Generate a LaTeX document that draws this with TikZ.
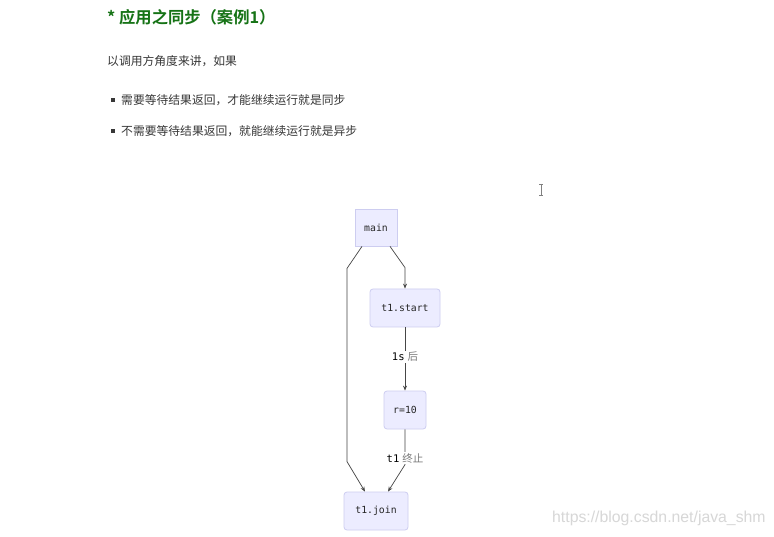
\documentclass[tikz,border=0pt]{standalone}
\usepackage{fontspec}
\setmainfont{Liberation Sans}
\newfontfamily\cjk{Noto Sans CJK SC}
\newfontfamily\cjkbold{Noto Sans CJK SC Bold}
\newfontfamily\mono{DejaVu Sans Mono}
\usetikzlibrary{arrows.meta}
\definecolor{titlegreen}{RGB}{22,115,22}
\definecolor{bodytext}{RGB}{55,55,55}
\definecolor{nodefill}{RGB}{236,236,255}
\definecolor{nodeline}{RGB}{205,205,240}
\definecolor{edgeline}{RGB}{70,70,70}
\definecolor{lblgray}{RGB}{120,120,120}
\definecolor{wm}{RGB}{215,215,215}
\tikzset{
  box/.style={draw=nodeline, fill=nodefill, line width=0.8pt, inner sep=0pt, font=\mono\fontsize{9.8}{11}\selectfont, text=black!85},
  roundbox/.style={box, rounded corners=3pt},
  arr/.style={draw=edgeline, line width=0.7pt, -{Stealth[length=5pt,width=4pt]}},
  elabel/.style={fill=white, inner sep=1pt, font=\fontsize{10.5}{12}\selectfont},
  bodyline/.style={anchor=west, inner sep=0pt, text=bodytext, font=\cjk\fontsize{11.8}{14}\selectfont},
}
\begin{document}
\begin{tikzpicture}[x=1pt,y=-1pt]
\useasboundingbox[fill=white] (0,0) rectangle (774,537);
% heading and text
\node[anchor=west, inner sep=0pt, text=titlegreen, font=\cjkbold\fontsize{16.3}{20}\selectfont] (title) at (107,17) {* 应用之同步（案例1）};
\node[bodyline] (intro) at (107,61) {以调用方角度来讲，如果};
\node[fill=bodytext, minimum size=4pt, inner sep=0pt] (b1) at (112.5,100) {};
\node[bodyline] (t1line) at (121,100) {需要等待结果返回，才能继续运行就是同步};
\node[fill=bodytext, minimum size=4pt, inner sep=0pt] (b2) at (112.5,131) {};
\node[bodyline] (t2line) at (121,131) {不需要等待结果返回，就能继续运行就是异步};
% nodes
\node[box, minimum width=42pt, minimum height=37pt] (main) at (376,227.5) {main};
\node[roundbox, minimum width=70pt, minimum height=38pt] (start) at (405,308) {t1.start};
\node[roundbox, minimum width=42pt, minimum height=38pt] (r10) at (405,410) {r=10};
\node[roundbox, minimum width=64pt, minimum height=38pt] (join) at (376,511) {t1.join};
% edges
\draw[arr] ([xshift=14pt]main.south) -- ([yshift=21pt]start.north) -- (start.north);
\draw[arr] (start.south) -- (r10.north);
\draw[arr] ([xshift=-14pt]main.south) -- ([xshift=-29pt,yshift=-22pt]main.south)
  -- ([xshift=-29pt,yshift=30pt]join.north) -- ([xshift=-11pt]join.north);
\draw[arr] (r10.south) -- ([xshift=29pt,yshift=27pt]join.north) -- ([xshift=12pt]join.north);
\node[elabel] (l1) at (405,357) {{\mono 1s} {\cjk\color{lblgray}后}};
\node[elabel] (l2) at (405,458) {{\mono t1} {\cjk\color{lblgray}终止}};
% cursor
\draw[gray, line width=0.6pt] (541,184) -- (541,195) (539,184) -- (543,184) (539,195) -- (543,195);
% watermark
\node[anchor=west, inner sep=0pt, text=wm, font=\fontsize{15.8}{18}\selectfont] (wmark) at (552,518) {https://blog.csdn.net/java\_shm};
\end{tikzpicture}
\end{document}
